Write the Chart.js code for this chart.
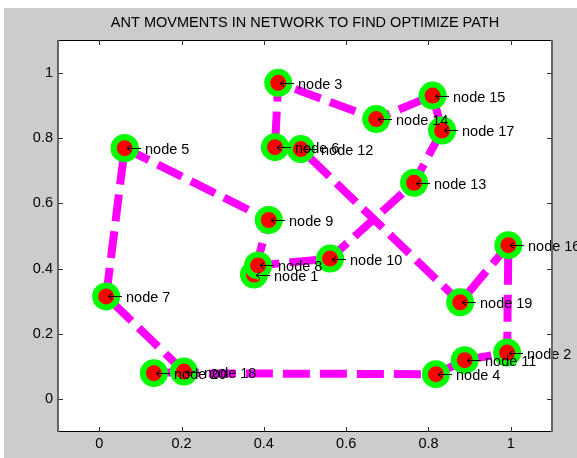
<!DOCTYPE html>
<html>
<head>
<meta charset="utf-8">
<script src="https://cdn.jsdelivr.net/npm/chart.js@4.4.0/dist/chart.umd.min.js"></script>
<style>
  body { margin: 0; background: #fff; }
  #frame { position: absolute; left: 4px; top: 8px; width: 573px; height: 450px; background: #cccccc; }
</style>
</head>
<body>
<div id="frame"><canvas id="antChart" width="573" height="450"></canvas></div>
<script>
// node coordinates, index = node number - 1
var nodeX = [0.376, 0.991, 0.435, 0.818, 0.062, 0.427, 0.017, 0.386, 0.412, 0.561,
             0.888, 0.490, 0.765, 0.673, 0.810, 0.994, 0.833, 0.206, 0.877, 0.133];
var nodeY = [0.382, 0.143, 0.969, 0.077, 0.769, 0.772, 0.315, 0.410, 0.549, 0.431,
             0.120, 0.766, 0.663, 0.858, 0.930, 0.472, 0.823, 0.085, 0.297, 0.080];
// order the ants walk the nodes
var pathOrder = [5, 9, 1, 8, 10, 13, 17, 15, 14, 3, 6, 12, 19, 16, 2, 11, 4, 20, 18, 7, 5];
var xTicks = [0, 0.2, 0.4, 0.6, 0.8, 1];
var yTicks = [0, 0.2, 0.4, 0.6, 0.8, 1];

var FONT = '"Liberation Sans", Arial, sans-serif';

var pathData = pathOrder.map(function (n) {
    return { x: nodeX[n - 1], y: nodeY[n - 1] };
});

// white plot area
var plotBg = {
    id: 'plotBg',
    beforeDraw: function (chart) {
        var a = chart.chartArea, ctx = chart.ctx;
        ctx.save();
        ctx.fillStyle = '#fff';
        ctx.fillRect(a.left, a.top, a.right - a.left, a.bottom - a.top);
        ctx.restore();
    }
};

// "<- node N" labels
var nodeLabels = {
    id: 'nodeLabels',
    afterDatasetsDraw: function (chart) {
        var ctx = chart.ctx, sx = chart.scales.x, sy = chart.scales.y;
        ctx.save();
        ctx.strokeStyle = '#000';
        ctx.fillStyle = '#000';
        ctx.lineWidth = 1;
        ctx.font = '14.5px ' + FONT;
        ctx.textBaseline = 'middle';
        for (var i = 0; i < nodeX.length; i++) {
            var px = Math.round(sx.getPixelForValue(nodeX[i]));
            var py = Math.round(sy.getPixelForValue(nodeY[i])) + 0.5;
            ctx.beginPath();
            ctx.moveTo(px + 2, py);
            ctx.lineTo(px + 16, py);
            ctx.moveTo(px + 6, py - 3);
            ctx.lineTo(px + 2, py);
            ctx.lineTo(px + 6, py + 3);
            ctx.stroke();
            ctx.fillText('node ' + (i + 1), px + 20, py + 1);
        }
        ctx.restore();
    }
};

// axes box with inward ticks
var axesBox = {
    id: 'axesBox',
    afterDraw: function (chart) {
        var a = chart.chartArea, ctx = chart.ctx, sx = chart.scales.x, sy = chart.scales.y;
        ctx.save();
        ctx.strokeStyle = '#000';
        ctx.lineWidth = 1;
        ctx.strokeRect(a.left + 0.5, a.top + 0.5, a.right - a.left - 1, a.bottom - a.top - 1);
        ctx.strokeStyle = '#666';
        ctx.lineWidth = 2;
        ctx.beginPath();
        ctx.moveTo(a.left, a.top);
        ctx.lineTo(a.left, a.bottom);
        ctx.moveTo(a.right, a.top);
        ctx.lineTo(a.right, a.bottom);
        ctx.stroke();
        ctx.strokeStyle = '#333';
        ctx.lineWidth = 1;
        ctx.beginPath();
        xTicks.forEach(function (v) {
            var px = Math.round(sx.getPixelForValue(v)) + 0.5;
            ctx.moveTo(px, a.bottom);
            ctx.lineTo(px, a.bottom - 5);
            ctx.moveTo(px, a.top);
            ctx.lineTo(px, a.top + 5);
        });
        yTicks.forEach(function (v) {
            var py = Math.round(sy.getPixelForValue(v)) + 0.5;
            ctx.moveTo(a.left, py);
            ctx.lineTo(a.left + 5, py);
            ctx.moveTo(a.right, py);
            ctx.lineTo(a.right - 5, py);
        });
        ctx.stroke();
        ctx.restore();
    }
};

var ctx = document.getElementById('antChart');
var antChart = new Chart(ctx, {
    type: 'scatter',
    data: {
        datasets: [{
            data: pathData,
            showLine: true,
            borderColor: '#ff00ff',
            borderWidth: 8,
            borderDash: [27, 10],
            pointRadius: 11,
            pointBorderWidth: 6,
            pointBackgroundColor: '#ff0000',
            pointBorderColor: '#00ff00',
            pointHoverRadius: 11
        }]
    },
    options: {
        responsive: false,
        animation: false,
        layout: { padding: { left: 0, top: 0, right: 25, bottom: 0 } },
        plugins: {
            legend: { display: false },
            tooltip: { enabled: false },
            title: {
                display: true,
                text: 'ANT MOVMENTS IN NETWORK TO FIND OPTIMIZE PATH',
                color: '#000',
                fullSize: false,
                font: { family: FONT, size: 14.5, weight: 'normal' },
                padding: { top: 6.3, bottom: 8.3 }
            }
        },
        scales: {
            x: {
                type: 'linear',
                min: -0.1,
                max: 1.1,
                grid: { display: false, drawTicks: false },
                border: { display: false },
                afterBuildTicks: function (s) { s.ticks = xTicks.map(function (v) { return { value: v }; }); },
                afterFit: function (s) { s.height = 26; },
                ticks: {
                    color: '#000',
                    padding: 3,
                    maxRotation: 0,
                    font: { family: FONT, size: 14.5 },
                    callback: function (v) { return String(v); }
                }
            },
            y: {
                type: 'linear',
                min: -0.1,
                max: 1.1,
                grid: { display: false, drawTicks: false },
                border: { display: false },
                afterBuildTicks: function (s) { s.ticks = yTicks.map(function (v) { return { value: v }; }); },
                afterFit: function (s) { s.width = 54; },
                ticks: {
                    color: '#000',
                    padding: 5,
                    font: { family: FONT, size: 14.5 },
                    callback: function (v) { return String(v); }
                }
            }
        }
    },
    plugins: [plotBg, nodeLabels, axesBox]
});
</script>
</body>
</html>
